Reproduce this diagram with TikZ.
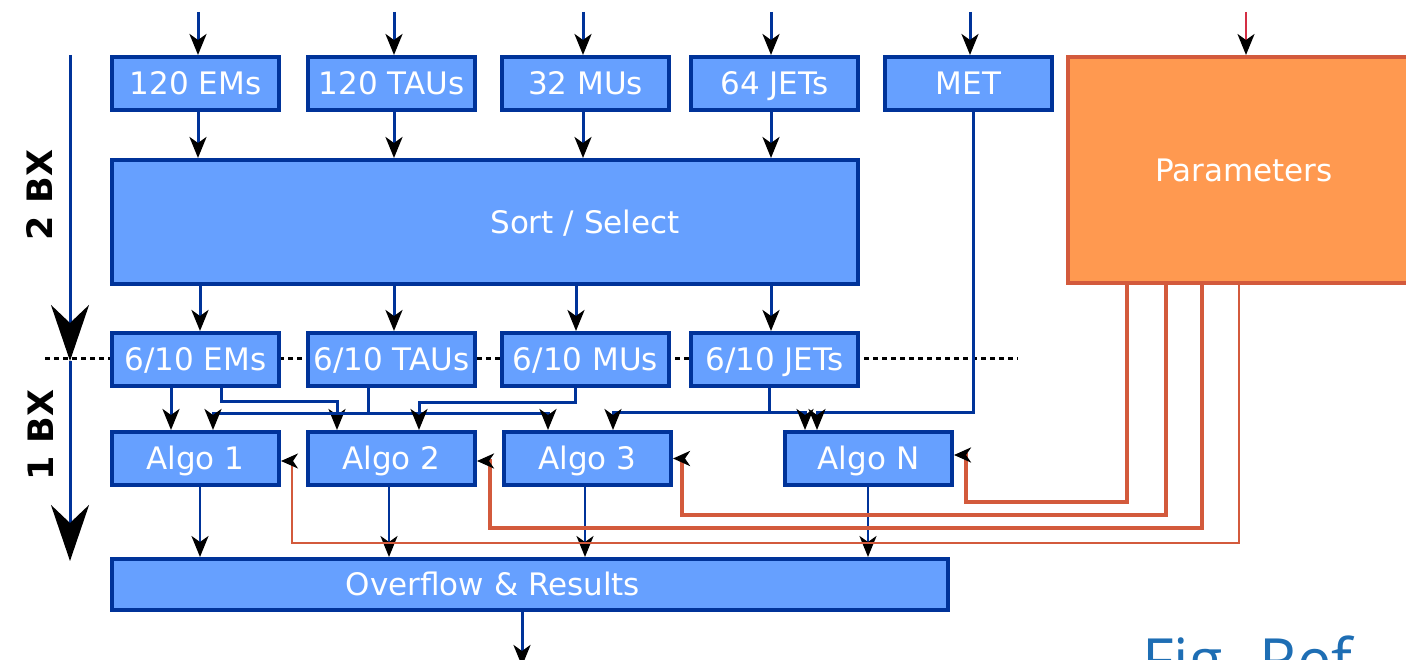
\documentclass[tikz,border=0pt]{standalone}
\usepackage{fontspec}
\setmainfont{DejaVu Sans}
\newfontfamily\figfont{Open Sans}
\usetikzlibrary{arrows.meta,calc}

\definecolor{boxfill}{HTML}{66A0FF}
\definecolor{boxline}{HTML}{003399}
\definecolor{parfill}{HTML}{FF9950}
\definecolor{parline}{HTML}{D35A3C}
\definecolor{feedred}{HTML}{D42E44}
\definecolor{figblue}{HTML}{1E6EB4}

\begin{document}
\begin{tikzpicture}[x=1pt,y=-1pt,
  blk/.style={draw=boxline, fill=boxfill, line width=4pt, text=white,
    font=\fontsize{31}{37}\selectfont, inner sep=0pt, minimum height=53pt,
    text height=22.6pt, text depth=0pt},
  cell/.style={blk, minimum width=167pt},
  boxtext/.style={text=white, font=\fontsize{31}{37}\selectfont, inner sep=0pt,
    text height=22.6pt, text depth=0pt},
  tip/.style={-{Stealth[length=21pt,width=17pt,inset=6pt,color=black]}},
  wire/.style={draw=boxline, line width=3pt, tip},
  thinwire/.style={draw=boxline, line width=2.5pt, tip},
  ctl/.style={draw=parline, -{Stealth[length=17pt,width=15pt,inset=5pt,color=black]}},
  axis/.style={draw=boxline, line width=3pt,
    -{Stealth[length=56pt,width=38pt,inset=18pt,color=black]}},
  bxlabel/.style={rotate=90, font=\bfseries\fontsize{35}{40}\selectfont, inner sep=0pt}
]
\path[use as bounding box] (0,0) rectangle (1406,660);
\clip (0,0) rectangle (1406,660);

% bunch-crossing boundary
\coordinate (d0) at (45,359);
\coordinate (d1) at (1018,359);
\draw[line width=3pt, dash pattern=on 4.5pt off 4.5pt] (d0) -- (d1);

% input objects
\node[cell] (emT)  at (195.5,83.5) {120 EMs};
\node[cell] (tauT) at (391.5,83.5) {120 TAUs};
\node[cell] (muT)  at (585.5,83.5) {32 MUs};
\node[cell] (jetT) at (774.5,83.5) {64 JETs};
\node[cell] (met)  at (968.5,83.5) {MET};

% sorting stage
\node[blk, minimum width=746pt, minimum height=124pt] (sort) at (485,222) {};
\node[boxtext] (sortlbl) at ([xshift=100pt]sort.center) {Sort / Select};

% selected objects
\node[cell] (emS)  at (195.5,359.5) {6/10 EMs};
\node[cell] (tauS) at (391.5,359.5) {6/10 TAUs};
\node[cell] (muS)  at (585.5,359.5) {6/10 MUs};
\node[cell] (jetS) at (774.5,359.5) {6/10 JETs};

% algorithms
\node[cell] (alg1) at (195.5,458.5) {Algo 1};
\node[cell] (alg2) at (391.5,458.5) {Algo 2};
\node[cell] (alg3) at (587.5,458.5) {Algo 3};
\node[cell] (algN) at (868.5,458.5) {Algo N};

% output
\node[blk, minimum width=836pt, minimum height=51pt] (ovf) at (530,584.5) {};
\node[boxtext] (ovflbl) at ([xshift=-37pt]ovf.center) {Overflow \& Results};

% parameters
\node[draw=parline, fill=parfill, line width=4pt, text=white,
      font=\fontsize{31}{37}\selectfont, inner sep=0pt,
      text height=22.6pt, text depth=0pt,
      minimum width=352pt, minimum height=226pt] (par) at (1244,170) {Parameters};

% time axis
\coordinate (ax0) at (70,55);
\coordinate (ax1) at (70,361);
\coordinate (ax2) at (70,561);
\draw[axis] (ax0) -- (ax1);
\draw[axis] (ax1) -- (ax2);
\node[bxlabel] (bx2) at (40,195) {2 BX};
\node[bxlabel] (bx1) at (41,435) {1 BX};

% incoming feeds
\coordinate (in1) at (198,12);
\coordinate (in2) at (394,12);
\coordinate (in3) at (583,12);
\coordinate (in4) at (771,12);
\coordinate (in5) at (970,12);
\coordinate (inP) at (1246,12);
\draw[wire] (in1) -- (in1 |- emT.north);
\draw[wire] (in2) -- (in2 |- tauT.north);
\draw[wire] (in3) -- (in3 |- muT.north);
\draw[wire] (in4) -- (in4 |- jetT.north);
\draw[wire] (in5) -- (in5 |- met.north);
\draw[draw=feedred, line width=2.5pt, tip] (inP) -- (inP |- par.north);

% inputs into sorting
\draw[wire] (in1 |- emT.south) -- (in1 |- sort.north);
\draw[wire] (in2 |- tauT.south) -- (in2 |- sort.north);
\draw[wire] (in3 |- muT.south) -- (in3 |- sort.north);
\draw[wire] (in4 |- jetT.south) -- (in4 |- sort.north);

% sorting into selected objects
\coordinate (s1) at ([xshift=4.5pt]emS.north);
\coordinate (s2) at ([xshift=2.5pt]tauS.north);
\coordinate (s3) at ([xshift=-9.5pt]muS.north);
\coordinate (s4) at ([xshift=-3.5pt]jetS.north);
\draw[wire] (s1 |- sort.south) -- (s1);
\draw[wire] (s2 |- sort.south) -- (s2);
\draw[wire] (s3 |- sort.south) -- (s3);
\draw[wire] (s4 |- sort.south) -- (s4);

% selected objects into algorithms
\draw[wire] ([xshift=-24.5pt]emS.south) -- ([xshift=-24.5pt]alg1.north);
\draw[wire] ([xshift=25.5pt]emS.south) -- ++(0,13) -| ([xshift=-54.5pt]alg2.north);
\draw[wire] ([xshift=-23.5pt]tauS.south) -- ++(0,25) -| ([xshift=17.5pt]alg1.north);
\draw[wire] ([xshift=-23.5pt]tauS.south) -- ++(0,25) -| ([xshift=-39.5pt]alg3.north);
\draw[wire] ([xshift=-10.5pt]muS.south) -- ++(0,14) -| ([xshift=27.5pt]alg2.north);
\draw[wire] ([xshift=-5.5pt]jetS.south) -- ++(0,24) -| ([xshift=25.5pt]alg3.north);
\draw[wire] ([xshift=-5.5pt]jetS.south) -- ++(0,24) -| ([xshift=-63.5pt]algN.north);
\draw[wire] ([xshift=4.5pt]met.south) -- ++(0,300) -| ([xshift=-51.5pt]algN.north);

% algorithms into output
\coordinate (o1) at ([xshift=4.5pt]alg1.south);
\coordinate (o2) at ([xshift=-2.5pt]alg2.south);
\coordinate (o3) at ([xshift=-2.5pt]alg3.south);
\coordinate (o4) at ([xshift=-0.5pt]algN.south);
\draw[thinwire] (o1) -- (o1 |- ovf.north);
\draw[thinwire] (o2) -- (o2 |- ovf.north);
\draw[thinwire] (o3) -- (o3 |- ovf.north);
\draw[thinwire] (o4) -- (o4 |- ovf.north);
\coordinate (out) at ([xshift=-8pt]ovf.south |- 0,666);
\draw[wire] ([xshift=-8pt]ovf.south) -- (out);

% parameter lines
\coordinate (pN) at ([xshift=-117pt]par.south);
\coordinate (p3) at ([xshift=-78pt]par.south);
\coordinate (p2) at ([xshift=-42pt]par.south);
\coordinate (p1) at ([xshift=-5pt]par.south);
\coordinate (cN) at ([xshift=12pt,yshift=3.5pt]algN.east);
\coordinate (c3) at ([xshift=9pt]alg3.east);
\coordinate (c2) at ([xshift=13pt,yshift=-2.5pt]alg2.east);
\coordinate (c1) at ([xshift=11pt,yshift=-2.5pt]alg1.east);
\draw[ctl, line width=3.5pt] (pN) -- ++(0,217) -| (cN) -- (algN.east |- cN);
\draw[ctl, line width=3.5pt] (p3) -- ++(0,230) -| (c3) -- (alg3.east |- c3);
\draw[ctl, line width=4.5pt] (p2) -- ++(0,243) -| (c2) -- (alg2.east |- c2);
\draw[ctl, line width=2pt]   (p1) -- ++(0,258) -| (c1) -- (alg1.east |- c1);

% caption reference
\node[anchor=base west, text=figblue, font=\figfont\fontsize{61}{70}\selectfont,
      inner sep=0pt] (figref) at (1142,682) {Fig. Ref};
\end{tikzpicture}
\end{document}
